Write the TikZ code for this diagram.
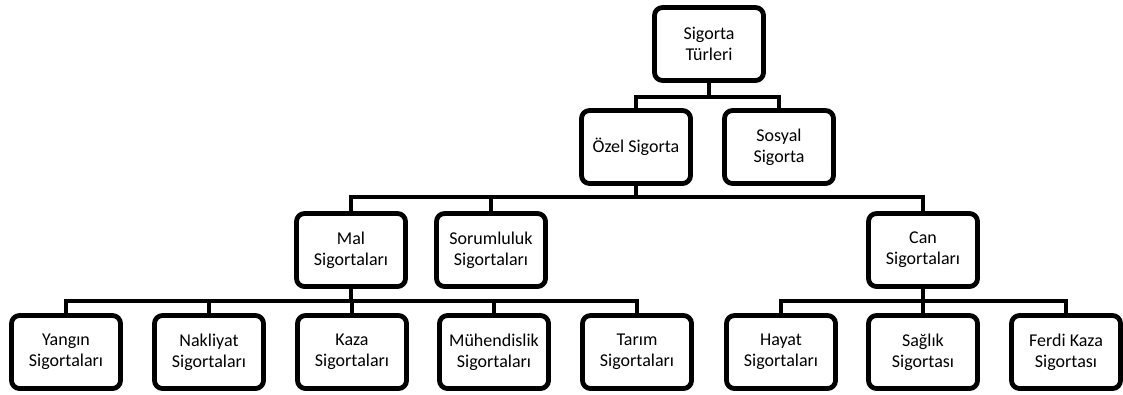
\documentclass[tikz,border=0pt]{standalone}
\usepackage{fontspec}
\setmainfont{Carlito}
\begin{document}
\begin{tikzpicture}[x=1pt,y=-1pt,
  box/.style={draw=black, line width=4.8pt, rounded corners=8pt, fill=white,
    minimum width=109pt, minimum height=73pt, align=center, inner sep=2pt,
    font=\fontsize{18}{21}\selectfont},
  conn/.style={draw=black, line width=4.3pt}]
\useasboundingbox (0,0) rectangle (1123,394);
% bar levels
\coordinate (b1) at (0,97);
\coordinate (b2) at (0,197);
\coordinate (b3) at (0,301);
% nodes
\node[box] (top) at (709,44) {Sigorta\\Türleri};
\node[box] (ozel) at (636,147) {Özel Sigorta};
\node[box] (sosyal) at (779,147) {Sosyal\\Sigorta};
\node[box] (mal) at (351,250) {Mal\\Sigortaları};
\node[box] (sorum) at (491,250) {Sorumluluk\\Sigortaları};
\node[box] (can) at (923,250) {Can\\Sigortaları};
\node[box] (yangin) at (66,352) {Yangın\\Sigortaları};
\node[box] (nak) at (209,352) {Nakliyat\\Sigortaları};
\node[box] (kaza) at (352,352) {Kaza\\Sigortaları};
\node[box] (muh) at (494,352) {Mühendislik\\Sigortaları};
\node[box] (tarim) at (637,352) {Tarım\\Sigortaları};
\node[box] (hayat) at (781,352) {Hayat\\Sigortaları};
\node[box] (saglik) at (923,352) {Sağlık\\Sigortası};
\node[box] (ferdi) at (1066,352) {Ferdi Kaza\\Sigortası};
% connectors
\draw[conn] (top.south) -- (top.south |- b1);
\draw[conn] (ozel.north) -- (ozel.north |- b1) -| (sosyal.north);
\draw[conn] (ozel.south) -- (ozel.south |- b2);
\draw[conn] (mal.north) -- (mal.north |- b2) -| (can.north);
\draw[conn] (sorum.north) -- (sorum.north |- b2);
\draw[conn] (mal.south) -- (mal.south |- b3);
\draw[conn] (yangin.north) -- (yangin.north |- b3) -| (tarim.north);
\draw[conn] (nak.north) -- (nak.north |- b3);
\draw[conn] (kaza.north) -- (kaza.north |- b3);
\draw[conn] (muh.north) -- (muh.north |- b3);
\draw[conn] (can.south) -- (can.south |- b3);
\draw[conn] (hayat.north) -- (hayat.north |- b3) -| (ferdi.north);
\draw[conn] (saglik.north) -- (saglik.north |- b3);
\end{tikzpicture}
\end{document}
